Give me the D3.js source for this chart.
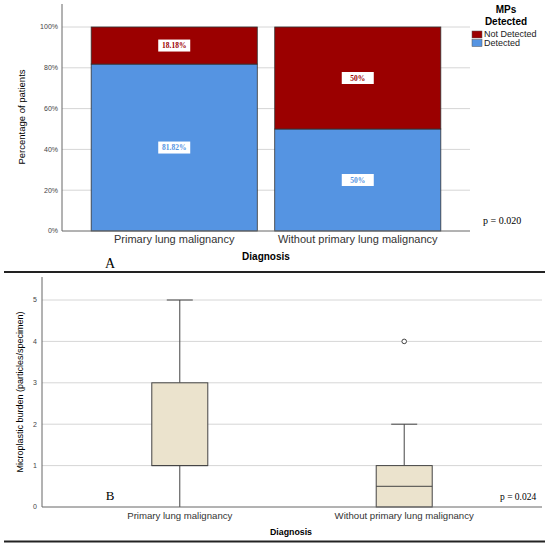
<!DOCTYPE html>
<html>

<head>
    <meta charset="UTF-8">
    <title>MPs detected / microplastic burden</title>
    <style>
        body {
            margin: 0;
            background-color: white;
        }
        svg {
            display: block;
        }
        .sans {
            font-family: "Liberation Sans", Arial, sans-serif;
        }
        .serif {
            font-family: "Liberation Serif", "Times New Roman", serif;
        }
    </style>
</head>

<body>
    <svg></svg>
    <script src="https://d3js.org/d3.v7.min.js"></script>
    <script>
        // ---- data ----
        let diagnoses = ["Primary lung malignancy", "Without primary lung malignancy"]
        let statusKeys = ["Detected", "Not Detected"]
        let detectedPct = [81.82, 50]
        let notDetectedPct = [18.18, 50]
        let pctTicks = [0, 20, 40, 60, 80, 100]

        let boxMin = [0, 0]
        let boxQ1 = [1, 0]
        let boxMedian = [1, 0.5]
        let boxQ3 = [3, 1]
        let boxMax = [5, 2]
        let boxOutliers = [[], [4]]
        let burdenTicks = [0, 1, 2, 3, 4, 5]

        let width = 550, height = 546;
        let red = "#9b0000", blue = "#5594e2", beige = "#ebe3cd", gridCol = "#d6d6d6";

        let svg = d3.select("svg")
            .attr("width", width)
            .attr("height", height)

        svg.append("rect").attr("width", width).attr("height", height).attr("fill", "white")

        // ================= panel A =================
        let xA = d3.scaleBand(diagnoses, [62, 470]).paddingInner(0.095).paddingOuter(0.159)
        let yA = d3.scaleLinear([0, 100], [231, 27])

        let gA = svg.append("g")

        // gridlines
        gA.append("g").selectAll("line")
            .data(pctTicks.filter(t => t > 0))
            .enter().append("line")
            .attr("x1", 62).attr("x2", 470)
            .attr("y1", d => yA(d)).attr("y2", d => yA(d))
            .attr("stroke", gridCol)

        // stacked bars
        let stackRows = diagnoses.map((d, i) => ({ diag: d, "Detected": detectedPct[i], "Not Detected": notDetectedPct[i] }))
        let series = d3.stack().keys(statusKeys)(stackRows)
        let colorA = d3.scaleOrdinal(statusKeys, [blue, red])

        series.forEach(s => {
            gA.append("g").selectAll("rect")
                .data(s)
                .enter().append("rect")
                .attr("x", d => xA(d.data.diag))
                .attr("width", xA.bandwidth())
                .attr("y", d => yA(d[1]))
                .attr("height", d => yA(d[0]) - yA(d[1]))
                .attr("fill", colorA(s.key))
                .attr("stroke", "#333")
                .attr("stroke-width", 0.8)
        })

        // value labels
        series.forEach(s => {
            let lab = gA.append("g").selectAll("g")
                .data(s)
                .enter().append("g")
                .attr("transform", d => "translate(" + (xA(d.data.diag) + xA.bandwidth() / 2) + "," + yA((d[0] + d[1]) / 2) + ")")
            lab.append("rect")
                .attr("x", -16).attr("y", -6).attr("width", 32).attr("height", 12)
                .attr("fill", "white")
            lab.append("text")
                .attr("class", "serif")
                .attr("text-anchor", "middle")
                .attr("dy", "0.35em")
                .attr("font-size", 7.5)
                .attr("font-weight", "bold")
                .attr("fill", colorA(s.key))
                .text(d => {
                    let v = d[1] - d[0]
                    return (Number.isInteger(v) ? v : v.toFixed(2)) + "%"
                })
        })

        // axes
        gA.append("line").attr("x1", 62).attr("x2", 62).attr("y1", yA(0)).attr("y2", 4).attr("stroke", "#666")
        gA.append("line").attr("x1", 62).attr("x2", 470).attr("y1", yA(0)).attr("y2", yA(0)).attr("stroke", "#666")

        gA.append("g").selectAll("text")
            .data(pctTicks)
            .enter().append("text")
            .attr("class", "sans")
            .attr("x", 58).attr("y", d => yA(d))
            .attr("dy", "0.35em")
            .attr("text-anchor", "end")
            .attr("font-size", 7)
            .attr("fill", "#444")
            .text(d => d + "%")

        gA.append("g").selectAll("text")
            .data(diagnoses)
            .enter().append("text")
            .attr("class", "sans")
            .attr("x", d => xA(d) + xA.bandwidth() / 2)
            .attr("y", 243)
            .attr("text-anchor", "middle")
            .attr("font-size", 11)
            .attr("fill", "#333")
            .text(d => d)

        gA.append("text").attr("class", "sans")
            .attr("x", 266).attr("y", 260)
            .attr("text-anchor", "middle").attr("font-size", 10).attr("font-weight", "bold")
            .text("Diagnosis")

        gA.append("text").attr("class", "sans")
            .attr("transform", "translate(25,117) rotate(-90)")
            .attr("text-anchor", "middle").attr("font-size", 9.5)
            .text("Percentage of patients")

        gA.append("text").attr("class", "serif")
            .attr("x", 110).attr("y", 268).attr("text-anchor", "middle").attr("font-size", 14)
            .text("A")

        gA.append("text").attr("class", "serif")
            .attr("x", 483).attr("y", 224).attr("font-size", 10)
            .text("p = 0.020")

        // legend
        let legend = gA.append("g")
        legend.append("text").attr("class", "sans")
            .attr("x", 506).attr("y", 13).attr("text-anchor", "middle")
            .attr("font-size", 10).attr("font-weight", "bold").text("MPs")
        legend.append("text").attr("class", "sans")
            .attr("x", 506).attr("y", 24.5).attr("text-anchor", "middle")
            .attr("font-size", 10).attr("font-weight", "bold").text("Detected")
        let legItems = legend.selectAll("g.item")
            .data(statusKeys.slice().reverse())
            .enter().append("g")
            .attr("transform", (d, i) => "translate(472," + (31 + i * 8.5) + ")")
        legItems.append("rect").attr("width", 10).attr("height", 7)
            .attr("fill", d => colorA(d)).attr("stroke", "#555").attr("stroke-width", 0.5)
        legItems.append("text").attr("class", "sans")
            .attr("x", 12).attr("y", 6.3).attr("font-size", 9).attr("fill", "#222")
            .text(d => d)

        // separators
        svg.append("line").attr("x1", 4).attr("x2", 545).attr("y1", 272).attr("y2", 272).attr("stroke", "#222").attr("stroke-width", 2)
        svg.append("line").attr("x1", 4).attr("x2", 545).attr("y1", 541.5).attr("y2", 541.5).attr("stroke", "#222").attr("stroke-width", 2)

        // ================= panel B =================
        let xB = d3.scalePoint(diagnoses, [42, 542]).padding(0.614)
        let yB = d3.scaleLinear([0, 5], [507, 300])
        let gB = svg.append("g")

        gB.append("g").selectAll("line")
            .data(burdenTicks.filter(t => t > 0))
            .enter().append("line")
            .attr("x1", 42).attr("x2", 542)
            .attr("y1", d => yB(d)).attr("y2", d => yB(d))
            .attr("stroke", gridCol)

        let boxes = diagnoses.map((d, i) => ({
            diag: d, min: boxMin[i], q1: boxQ1[i], med: boxMedian[i], q3: boxQ3[i], max: boxMax[i], out: boxOutliers[i]
        }))
        let boxW = 56, capW = 26

        let bx = gB.append("g").selectAll("g")
            .data(boxes)
            .enter().append("g")
            .attr("transform", d => "translate(" + xB(d.diag) + ",0)")

        // whiskers
        bx.append("line").attr("x1", 0).attr("x2", 0)
            .attr("y1", d => yB(d.q3)).attr("y2", d => yB(d.max)).attr("stroke", "#444")
        bx.append("line").attr("x1", 0).attr("x2", 0)
            .attr("y1", d => yB(d.q1)).attr("y2", d => yB(d.min)).attr("stroke", "#444")
        bx.append("line").attr("x1", -capW / 2).attr("x2", capW / 2)
            .attr("y1", d => yB(d.max)).attr("y2", d => yB(d.max)).attr("stroke", "#444")
        bx.append("rect")
            .attr("x", -boxW / 2).attr("width", boxW)
            .attr("y", d => yB(d.q3)).attr("height", d => yB(d.q1) - yB(d.q3))
            .attr("fill", beige).attr("stroke", "#444")
        bx.append("line").attr("x1", -boxW / 2).attr("x2", boxW / 2)
            .attr("y1", d => yB(d.med)).attr("y2", d => yB(d.med)).attr("stroke", "#444")
        bx.selectAll("circle")
            .data(d => d.out)
            .enter().append("circle")
            .attr("cx", 0).attr("cy", d => yB(d)).attr("r", 2.3)
            .attr("fill", "white").attr("stroke", "#444").attr("stroke-width", 1)

        // axes
        gB.append("line").attr("x1", 42).attr("x2", 42).attr("y1", yB(0)).attr("y2", 277).attr("stroke", "#666")
        gB.append("line").attr("x1", 42).attr("x2", 542).attr("y1", yB(0)).attr("y2", yB(0)).attr("stroke", "#666")

        gB.append("g").selectAll("text")
            .data(burdenTicks)
            .enter().append("text")
            .attr("class", "sans")
            .attr("x", 37).attr("y", d => yB(d))
            .attr("dy", "0.35em")
            .attr("text-anchor", "end")
            .attr("font-size", 7)
            .attr("fill", "#444")
            .text(d => d)

        gB.append("g").selectAll("text")
            .data(diagnoses)
            .enter().append("text")
            .attr("class", "sans")
            .attr("x", d => xB(d))
            .attr("y", 519)
            .attr("text-anchor", "middle")
            .attr("font-size", 9.6)
            .attr("fill", "#333")
            .text(d => d)

        gB.append("text").attr("class", "sans")
            .attr("x", 291).attr("y", 535)
            .attr("text-anchor", "middle").attr("font-size", 8.8).attr("font-weight", "bold")
            .text("Diagnosis")

        gB.append("text").attr("class", "sans")
            .attr("transform", "translate(23,392) rotate(-90)")
            .attr("text-anchor", "middle").attr("font-size", 9)
            .text("Microplastic burden (particles/specimen)")

        gB.append("text").attr("class", "serif")
            .attr("x", 110).attr("y", 500).attr("text-anchor", "middle").attr("font-size", 13)
            .text("B")

        gB.append("text").attr("class", "serif")
            .attr("x", 500).attr("y", 500).attr("font-size", 9.5)
            .text("p = 0.024")
    </script>

</body>

</html>
